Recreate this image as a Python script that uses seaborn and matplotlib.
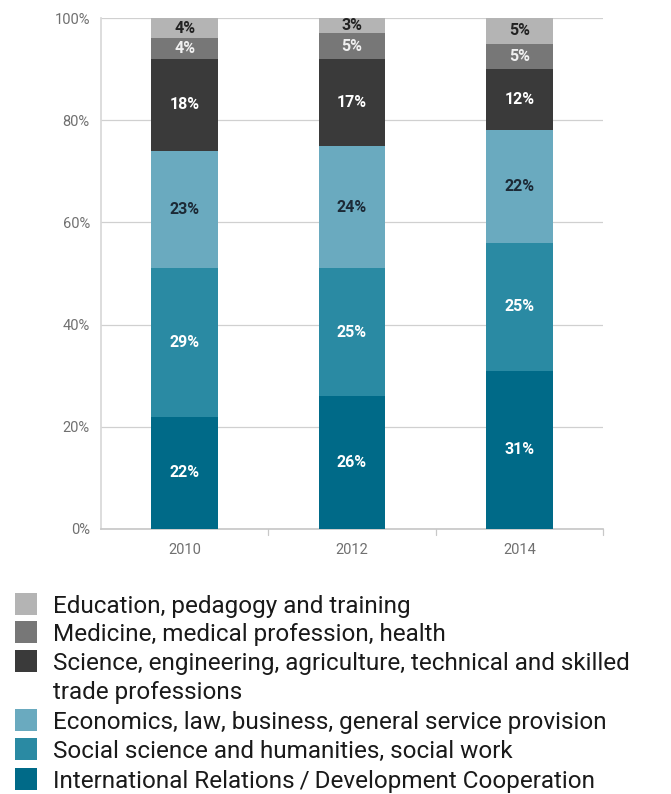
import matplotlib
matplotlib.use("Agg")
import matplotlib.pyplot as plt
from matplotlib.patches import Rectangle
import numpy as np
import pandas as pd
import seaborn as sns

years = ["2010", "2012", "2014"]
categories = [
    "Education, pedagogy and training",
    "Medicine, medical profession, health",
    "Science, engineering, agriculture, technical and skilled\ntrade professions",
    "Economics, law, business, general service provision",
    "Social science and humanities, social work",
    "International Relations\u2009/\u2009Development Cooperation",
]
# shares per year, listed from the bottom segment upwards
intl_relations = [22, 26, 31]
social_science = [29, 25, 25]
economics = [23, 24, 22]
science = [18, 17, 12]
medicine = [4, 5, 5]
education = [4, 3, 5]

series_bottom_up = [intl_relations, social_science, economics, science, medicine, education]
colors_bottom_up = ["#006a88", "#2a8aa3", "#6aaabf", "#3a3a3a", "#777777", "#b4b4b4"]
text_colors_bottom_up = ["white", "white", "#1c2a36", "white", "#f0f0f0", "#222222"]
legend_colors = colors_bottom_up[::-1]

sns.set_theme(style="white")
plt.rcParams["font.family"] = ["Roboto", "DejaVu Sans"]

fig = plt.figure(figsize=(6.71, 7.94), dpi=100)
ax = fig.add_axes([0.1505, 0.3338, 0.7482, 0.6435])

# cumulative tops so that each layer can be drawn over the previous one
cum = np.cumsum(np.array(series_bottom_up), axis=0)
for i in range(len(series_bottom_up) - 1, -1, -1):
    df = pd.DataFrame({"year": years, "top": cum[i]})
    sns.barplot(data=df, x="year", y="top", color=colors_bottom_up[i],
                saturation=1, width=0.4, ax=ax, zorder=3, linewidth=0)

for i, vals in enumerate(series_bottom_up):
    for j, v in enumerate(vals):
        mid = cum[i][j] - v / 2
        ax.text(j, mid, f"{v}%", ha="center", va="center", fontsize=11.5,
                fontweight="bold", color=text_colors_bottom_up[i], zorder=5)

ax.set_ylim(0, 100)
ax.set_xlim(-0.5, 2.5)
ax.set_yticks(range(0, 101, 20))
ax.set_yticklabels([f"{t}%" for t in range(0, 101, 20)])
ax.yaxis.grid(True, color="#d0d0d0", linewidth=0.9, zorder=0)
ax.set_xlabel("")
ax.set_ylabel("")
ax.tick_params(axis="y", length=0, pad=8, labelsize=10.5, labelcolor="#707070")
ax.tick_params(axis="x", length=0, pad=10, labelsize=10.5, labelcolor="#707070")
for side in ["top", "right"]:
    ax.spines[side].set_visible(False)
ax.spines["left"].set_color("#d8d8d8")
ax.spines["bottom"].set_color("#c8c8c8")
# small separators between the year groups on the baseline
for xb in [0.5, 1.5, 2.5]:
    ax.plot([xb, xb], [0, -1.2], color="#c8c8c8", lw=0.9, clip_on=False)

# legend: colour squares with labels; wrapped labels continue on the next line
W, H = 671, 794
rows_y = [604, 632, 661, 720, 749, 779]
line_step = 29
for label, col, yc in zip(categories, legend_colors, rows_y):
    fig.patches.append(Rectangle((15 / W, 1 - (yc + 11) / H), 22 / W, 22 / H,
                                 transform=fig.transFigure, facecolor=col,
                                 edgecolor="none"))
    for k, line in enumerate(label.split("\n")):
        fig.text(53 / W, 1 - (yc + k * line_step) / H, line, ha="left", va="center_baseline",
                 fontsize=17.5, color="#1a1a1a", transform=fig.transFigure)

fig.savefig("out.png", dpi=100)
